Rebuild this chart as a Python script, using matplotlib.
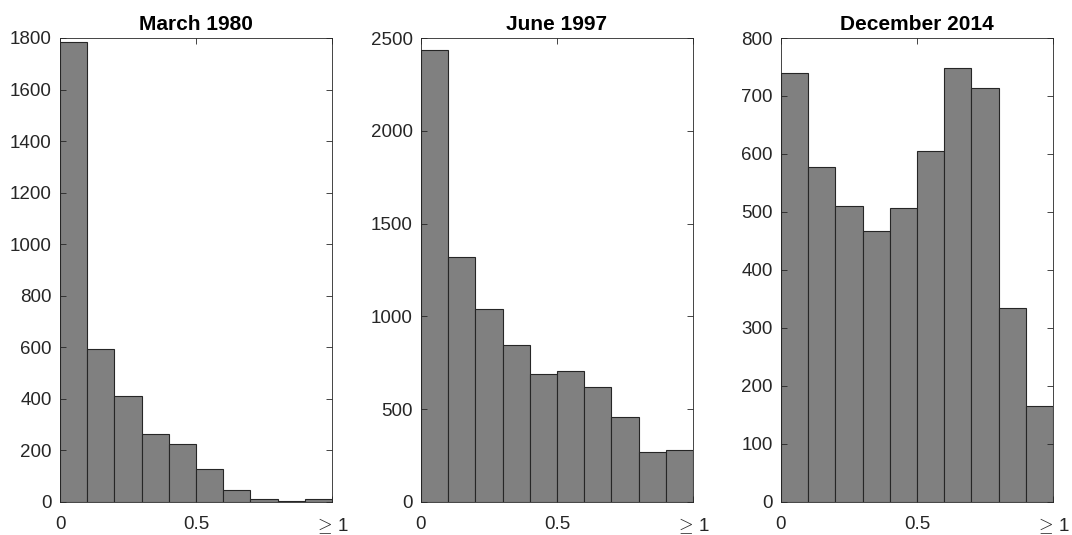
import numpy as np
import matplotlib.pyplot as plt

plt.rcParams["font.family"] = ["Liberation Sans", "DejaVu Sans"]
plt.rcParams["mathtext.fontset"] = "cm"

# histogram counts per bin (bins of width 0.1, last bin is >= 0.9 .. 1)
bin_edges = [0.0, 0.1, 0.2, 0.3, 0.4, 0.5, 0.6, 0.7, 0.8, 0.9, 1.0]
titles = ["March 1980", "June 1997", "December 2014"]
counts_1980 = [1784, 595, 410, 264, 224, 127, 45, 11, 5, 10]
counts_1997 = [2436, 1322, 1038, 845, 690, 705, 622, 460, 272, 278]
counts_2014 = [739, 578, 510, 467, 507, 606, 748, 713, 335, 165]
y_limits = [1800, 2500, 800]
y_steps = [200, 500, 100]
x_ticks = [0, 0.5, 1]
x_ticklabels = ["0", "0.5", r"$\geq\,$1"]

all_counts = [counts_1980, counts_1997, counts_2014]
lefts_px = [60, 421, 781]

fig = plt.figure(figsize=(10.72, 5.35), dpi=100)
dark = "#262626"

for i in range(3):
    ax = fig.add_axes([lefts_px[i] / 1072, 33 / 535, 272 / 1072, 464 / 535])
    ax.bar(bin_edges[:-1], all_counts[i], width=np.diff(bin_edges), align="edge",
           color="#808080", edgecolor=dark, linewidth=0.8)
    ax.set_xlim(bin_edges[0], bin_edges[-1])
    ax.set_ylim(0, y_limits[i])
    ax.set_yticks(np.arange(0, y_limits[i] + 1, y_steps[i]))
    ax.set_xticks(x_ticks)
    ax.set_xticklabels(x_ticklabels)
    ax.tick_params(direction="in", top=True, right=True, length=4, width=0.6,
                   colors=dark, labelsize=13.5)
    ax.tick_params(axis="x", pad=10)
    ax.tick_params(axis="y", pad=6)
    for sp in ax.spines.values():
        sp.set_color(dark)
        sp.set_linewidth(0.6)
    ax.set_title(titles[i], fontsize=15, fontweight="bold", pad=6)

fig.savefig("out.png", dpi=100)
